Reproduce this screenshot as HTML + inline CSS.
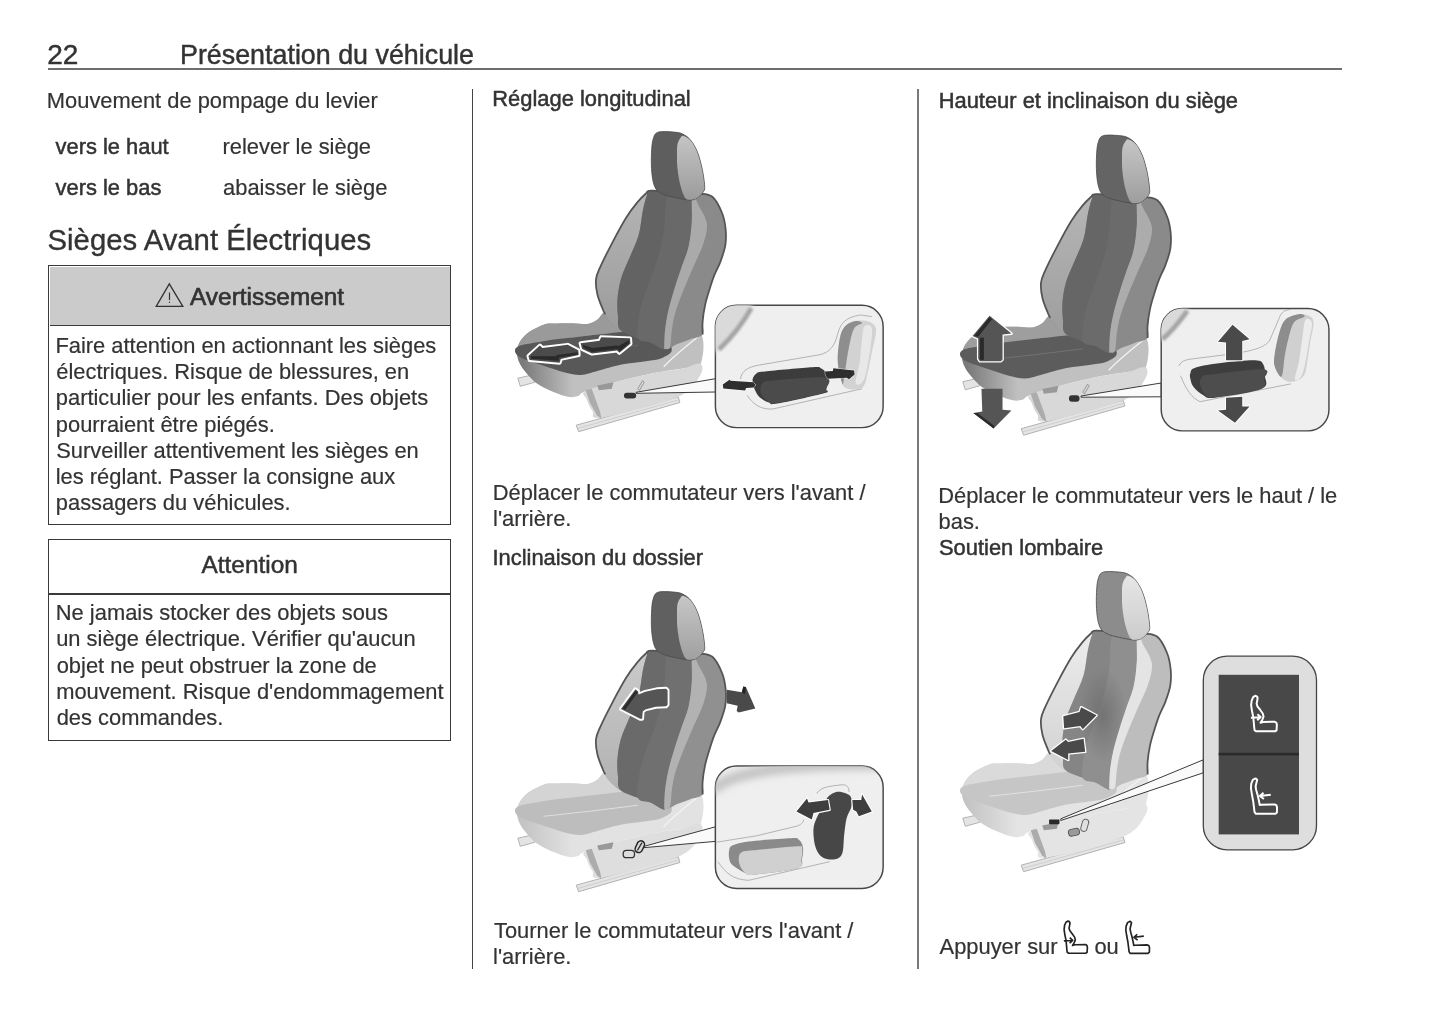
<!DOCTYPE html>
<html><head><meta charset="utf-8"><style>
html,body{margin:0;padding:0;background:#fff;}
body{filter:grayscale(1);}
body{width:1445px;height:1018px;position:relative;overflow:hidden;font-family:"Liberation Sans",sans-serif;color:#333;}
.t{position:absolute;white-space:pre;line-height:1;-webkit-text-stroke:0.2px #333;}
.box{position:absolute;border:1.5px solid #3a3a3a;}
svg{overflow:visible}
</style></head><body>
<div class="t" style="left:47.29px;top:40.60px;font-size:28px;-webkit-text-stroke:0.45px #333">22</div>
<div class="t" style="left:180.00px;top:41.57px;font-size:26.85px;-webkit-text-stroke:0.45px #333">Présentation du véhicule</div>
<div style="position:absolute;left:48px;top:68px;width:1294.3px;height:2px;background:#6e6e6e"></div>
<div class="t" style="left:46.80px;top:90.16px;font-size:21.9px;">Mouvement de pompage du levier</div>
<div class="t" style="left:55.53px;top:135.66px;font-size:21.9px;-webkit-text-stroke:0.5px #333">vers le haut</div>
<div class="t" style="left:222.55px;top:135.66px;font-size:21.9px;">relever le siège</div>
<div class="t" style="left:55.53px;top:176.56px;font-size:21.9px;-webkit-text-stroke:0.5px #333">vers le bas</div>
<div class="t" style="left:223.07px;top:176.56px;font-size:21.9px;">abaisser le siège</div>
<div class="t" style="left:47.57px;top:224.80px;font-size:29.3px;-webkit-text-stroke:0.35px #333">Sièges Avant Électriques</div>
<div class="box" style="left:48px;top:265px;width:401px;height:258px"></div>
<div style="position:absolute;left:49.5px;top:266.5px;width:400px;height:58.5px;background:#cbcbcb;border-bottom:1.5px solid #3a3a3a"></div>
<svg style="position:absolute;left:154px;top:282px" width="32" height="27" viewBox="0 0 32 27"><path d="M15.3 1.8 L2.2 24.4 L28.8 24.4 Z" fill="none" stroke="#333" stroke-width="1.3" stroke-linejoin="miter"/><path d="M15.5 10.5 V18" stroke="#333" stroke-width="1.2"/><circle cx="15.5" cy="20.2" r="0.7" fill="#333"/></svg>
<div class="t" style="left:190.05px;top:285.25px;font-size:24.4px;-webkit-text-stroke:0.65px #333">Avertissement</div>
<div class="t" style="left:55.40px;top:334.66px;font-size:21.9px;">Faire attention en actionnant les sièges</div>
<div class="t" style="left:56.27px;top:360.96px;font-size:21.9px;">électriques. Risque de blessures, en</div>
<div class="t" style="left:55.79px;top:387.26px;font-size:21.9px;">particulier pour les enfants. Des objets</div>
<div class="t" style="left:55.79px;top:413.56px;font-size:21.9px;">pourraient être piégés.</div>
<div class="t" style="left:56.21px;top:439.86px;font-size:21.9px;">Surveiller attentivement les sièges en</div>
<div class="t" style="left:55.72px;top:466.16px;font-size:21.9px;">les réglant. Passer la consigne aux</div>
<div class="t" style="left:55.79px;top:492.46px;font-size:21.9px;">passagers du véhicules.</div>
<div class="box" style="left:48px;top:539px;width:401px;height:199.5px"></div>
<div style="position:absolute;left:49px;top:593px;width:401px;height:1.5px;background:#3a3a3a"></div>
<div class="t" style="left:201.55px;top:553.25px;font-size:24.4px;-webkit-text-stroke:0.5px #333">Attention</div>
<div class="t" style="left:55.80px;top:601.96px;font-size:21.9px;">Ne jamais stocker des objets sous</div>
<div class="t" style="left:56.18px;top:628.26px;font-size:21.9px;">un siège électrique. Vérifier qu&#x27;aucun</div>
<div class="t" style="left:56.68px;top:654.56px;font-size:21.9px;">objet ne peut obstruer la zone de</div>
<div class="t" style="left:56.15px;top:680.86px;font-size:21.9px;">mouvement. Risque d&#x27;endommagement</div>
<div class="t" style="left:56.68px;top:707.16px;font-size:21.9px;">des commandes.</div>
<div style="position:absolute;left:471.8px;top:89px;width:1.3px;height:880px;background:#444"></div>
<div style="position:absolute;left:917.1px;top:89px;width:1.9px;height:880px;background:#7a7a7a"></div>
<div class="t" style="left:492.30px;top:88.16px;font-size:21.9px;-webkit-text-stroke:0.5px #333">Réglage longitudinal</div>
<div class="t" style="left:492.70px;top:481.56px;font-size:21.9px;">Déplacer le commutateur vers l&#x27;avant /</div>
<div class="t" style="left:493.02px;top:507.66px;font-size:21.9px;">l&#x27;arrière.</div>
<div class="t" style="left:492.48px;top:547.06px;font-size:21.9px;-webkit-text-stroke:0.5px #333">Inclinaison du dossier</div>
<div class="t" style="left:494.01px;top:920.46px;font-size:21.9px;">Tourner le commutateur vers l&#x27;avant /</div>
<div class="t" style="left:493.02px;top:946.36px;font-size:21.9px;">l&#x27;arrière.</div>
<div class="t" style="left:938.70px;top:89.96px;font-size:21.9px;-webkit-text-stroke:0.5px #333">Hauteur et inclinaison du siège</div>
<div class="t" style="left:938.20px;top:485.16px;font-size:21.9px;">Déplacer le commutateur vers le haut / le</div>
<div class="t" style="left:938.59px;top:511.46px;font-size:21.9px;">bas.</div>
<div class="t" style="left:939.01px;top:537.16px;font-size:21.9px;-webkit-text-stroke:0.5px #333">Soutien lombaire</div>
<div class="t" style="left:939.56px;top:936.46px;font-size:21.9px;">Appuyer sur</div>
<div class="t" style="left:1094.38px;top:936.46px;font-size:21.9px;">ou</div>

<style>
.S path{stroke:none}
.S .rl{fill:#e4e4e4;stroke:#b0b0b0;stroke-width:6}
.S .cf{fill:var(--cf)}
.S .cs{fill:var(--cs)}
.S .cd{fill:var(--cd)}
.S .ro{fill:var(--ro)}
.S .lb{fill:var(--lb)}
.S .ce{fill:var(--ce)}
.S .ce2{fill:var(--ce2)}
.S .rf{fill:var(--rf)}
.S .sh{fill:var(--sh)}
.S .hr{fill:var(--hr);stroke:#4a4a4a;stroke-width:5}
.S .hf{fill:var(--hf)}
.S .box{fill:#efefef;stroke:#474747;stroke-width:9}
.S .pl{fill:none;stroke:#a5a5a5;stroke-width:5}
.S .wl{fill:#fafafa;stroke:#3a3a3a;stroke-width:1}
.S .aw{stroke:#fff;stroke-width:52;stroke-linejoin:round;fill:#4b4b4b;paint-order:stroke}
.S .ad{fill:#2a2a2a}
.S .ak{fill:#4a4a4a}
.s1{--lb1:#b4b4b4;--hf1:#c4c4c4;--seam:#6a6a6a;--cf:#7a7a7a;--cf2:#c0c0c0;--cs:#9a9a9a;--cd:#585858;--ro:#8a8a8a;--lb:#9c9c9c;--ce:#636363;--ce2:#696969;--rf:#aaaaaa;--sh:#d8d8d8;--hr:#5e5e5e;--hf:#9c9c9c}
.s2{--lb1:#cacaca;--hf1:#c6c6c6;--seam:#e6e6e6;--cf:#c4c4c4;--cf2:#e2e2e2;--cs:#d4d4d4;--cd:#bdbdbd;--ro:#909090;--lb:#b2b2b2;--ce:#6a6a6a;--ce2:#707070;--rf:#b2b2b2;--sh:#dedede;--hr:#606060;--hf:#a0a0a0}
.s3{--lb1:#b6b6b6;--hf1:#c6c6c6;--seam:#777;--cf:#7a7a7a;--cf2:#c0c0c0;--cs:#9e9e9e;--cd:#5c5c5c;--ro:#8a8a8a;--lb:#9e9e9e;--ce:#666666;--ce2:#6b6b6b;--rf:#acacac;--sh:#d8d8d8;--hr:#646464;--hf:#9e9e9e}
.s4{--lb1:#ececec;--hf1:#e6e6e6;--seam:#e8e8e8;--cf:#c4c4c4;--cf2:#e4e4e4;--cs:#dadada;--cd:#c6c6c6;--ro:#bdbdbd;--lb:#d2d2d2;--ce:#858585;--ce2:#8f8f8f;--rf:#e4e4e4;--sh:#e4e4e4;--hr:#8c8c8c;--hf:#cccccc}
</style>

<svg class="S" style="position:absolute;left:0;top:0" width="1445" height="1018" viewBox="0 0 1445 1018"><defs><filter id="bl" x="-50%" y="-50%" width="200%" height="200%"><feGaussianBlur stdDeviation="22"/></filter><filter id="bl2" x="-50%" y="-50%" width="200%" height="200%"><feGaussianBlur stdDeviation="14"/></filter><filter id="bl3" x="-50%" y="-50%" width="200%" height="200%"><feGaussianBlur stdDeviation="7"/></filter><clipPath id="cb1"><rect x="95" y="125" width="1035" height="755" rx="130"/></clipPath><clipPath id="cb2"><rect x="95" y="130" width="1035" height="755" rx="130"/></clipPath><clipPath id="cb3"><rect x="100" y="145" width="1035" height="755" rx="130"/></clipPath></defs>
<g class="s1" transform="translate(500,120)"><defs><linearGradient id="g_s1" gradientUnits="userSpaceOnUse" x1="140" y1="0" x2="450" y2="0"><stop offset="0" style="stop-color:var(--cf)"/><stop offset="1" style="stop-color:var(--cf2)"/></linearGradient><linearGradient id="lb_s1" gradientUnits="userSpaceOnUse" x1="0" y1="-50" x2="0" y2="800"><stop offset="0" style="stop-color:var(--lb1)"/><stop offset="1" style="stop-color:var(--lb)"/></linearGradient><linearGradient id="hf_s1" gradientUnits="userSpaceOnUse" x1="0" y1="100" x2="0" y2="490"><stop offset="0" style="stop-color:var(--hf1)"/><stop offset="1" style="stop-color:var(--hf)"/></linearGradient></defs><g transform="translate(0,165) scale(0.16207)"><path d="M110,575 L200,555 L215,600 L125,625 Z" class="rl"/><path d="M470,865 L1100,690 L1110,725 L485,905 Z" class="rl"/><path d="M480,885 L1105,708" style="stroke:#c8c8c8;stroke-width:5;fill:none"/></g><g transform="translate(0,165) scale(0.16207)"><path d="M105,400 C107.5,378.3 117.5,358.3 130,340 C142.5,321.7 156.7,305.8 180,290 C203.3,274.2 246.7,253.7 270,245 C293.3,236.3 290.0,239.5 320,238 C350.0,236.5 413.3,235.7 450,236 C486.7,236.3 515.0,243.5 540,240 C565.0,236.5 583.3,226.7 600,215 C616.7,203.3 623.3,185.8 640,170 C656.7,154.2 673.3,128.3 700,120 C726.7,111.7 750.0,106.7 800,120 C850.0,133.3 927.7,171.7 1000,200 C1072.3,228.3 1195.0,240.0 1234,290 C1273.0,340.0 1251.7,462.5 1234,500 C1216.3,537.5 1171.0,508.5 1128,515 C1085.0,521.5 1041.7,525.8 976,539 C910.3,552.2 808.7,574.7 734,594 C659.3,613.3 570.3,639.8 528,655 C485.7,670.2 498.0,679.2 480,685 C462.0,690.8 445.0,694.2 420,690 C395.0,685.8 361.7,673.3 330,660 C298.3,646.7 258.3,630.0 230,610 C201.7,590.0 179.2,563.3 160,540 C140.8,516.7 124.2,493.3 115,470 C105.8,446.7 102.5,421.7 105,400 Z" style="fill:url(#g_s1)"/><path d="M105,400 C108.7,392.5 117.5,358.3 130,340 C142.5,321.7 156.7,305.8 180,290 C203.3,274.2 246.7,253.7 270,245 C293.3,236.3 290.0,239.5 320,238 C350.0,236.5 413.3,235.7 450,236 C486.7,236.3 515.0,243.5 540,240 C565.0,236.5 583.3,226.7 600,215 C616.7,203.3 623.3,180.8 640,170 C656.7,159.2 680.0,136.7 700,150 C720.0,163.3 743.3,226.7 760,250 C776.7,273.3 826.7,280.8 800,290 C773.3,299.2 666.7,298.3 600,305 C533.3,311.7 458.3,322.2 400,330 C341.7,337.8 298.7,342.8 250,352 C201.3,361.2 132.2,377.0 108,385 C83.8,393.0 101.3,407.5 105,400 Z" class="cs"/><path d="M106,382 C128.5,367.0 201.0,358.8 250,350 C299.0,341.2 341.7,336.5 400,329 C458.3,321.5 533.3,311.8 600,305 C666.7,298.2 733.3,288.8 800,288 C866.7,287.2 956.7,281.3 1000,300 C1043.3,318.7 1060.0,375.0 1060,400 C1060.0,425.0 1026.7,438.3 1000,450 C973.3,461.7 941.7,463.3 900,470 C858.3,476.7 800.0,480.0 750,490 C700.0,500.0 641.7,519.2 600,530 C558.3,540.8 533.3,553.3 500,555 C466.7,556.7 440.7,550.2 400,540 C359.3,529.8 303.5,510.7 256,494 C208.5,477.3 140.0,458.7 115,440 C90.0,421.3 83.5,397.0 106,382 Z" class="cd"/><path d="M1010,505 C1060,450 1120,400 1234,310" style="fill:none;stroke:#f4f4f4;stroke-width:8"/><path d="M270,440 L560,408 L850,372" style="fill:none;stroke:var(--seam);stroke-width:5"/></g><g transform="translate(60,80) scale(0.16207)"><path d="M560,-58 C588.3,-59.7 651.7,-53.0 700,-50 C748.3,-47.0 810.0,-45.0 850,-40 C890.0,-35.0 915.0,-40.0 940,-20 C965.0,0.0 986.3,46.7 1000,80 C1013.7,113.3 1018.7,146.7 1022,180 C1025.3,213.3 1025.3,246.7 1020,280 C1014.7,313.3 1001.7,348.3 990,380 C978.3,411.7 961.7,440.0 950,470 C938.3,500.0 929.2,530.0 920,560 C910.8,590.0 901.7,618.3 895,650 C888.3,681.7 882.5,720.0 880,750 C877.5,780.0 893.3,811.7 880,830 C866.7,848.3 826.7,850.0 800,860 C773.3,870.0 745.0,880.0 720,890 C695.0,900.0 676.7,921.7 650,920 C623.3,918.3 588.3,891.7 560,880 C531.7,868.3 511.7,863.3 480,850 C448.3,836.7 400.0,818.3 370,800 C340.0,781.7 317.5,760.5 300,740 C282.5,719.5 276.5,703.2 265,677 C253.5,650.8 238.2,614.2 231,583 C223.8,551.8 219.2,518.2 222,490 C224.8,461.8 231.0,452.2 248,414 C265.0,375.8 297.2,312.0 324,261 C350.8,210.0 383.5,149.0 409,108 C434.5,67.0 456.8,39.7 477,15 C497.2,-9.7 516.2,-27.8 530,-40 C543.8,-52.2 531.7,-56.3 560,-58 Z" class="ro"/><path d="M530,-40 C543.8,-52.2 559.0,-60.0 560,-58 C561.0,-56.0 544.2,-48.7 536,-28 C527.8,-7.3 519.5,25.0 511,66 C502.5,107.0 499.2,168.5 485,218 C470.8,267.5 444.3,317.7 426,363 C407.7,408.3 387.0,447.7 375,490 C363.0,532.3 356.8,578.7 354,617 C351.2,655.3 355.3,689.5 358,720 C360.7,750.5 379.7,796.7 370,800 C360.3,803.3 317.5,760.5 300,740 C282.5,719.5 276.5,703.2 265,677 C253.5,650.8 238.2,614.2 231,583 C223.8,551.8 219.2,518.2 222,490 C224.8,461.8 231.0,452.2 248,414 C265.0,375.8 297.2,312.0 324,261 C350.8,210.0 383.5,149.0 409,108 C434.5,67.0 456.8,39.7 477,15 C497.2,-9.7 516.2,-27.8 530,-40 Z" style="fill:url(#lb_s1)"/><path d="M560,-58 C606.5,-60.8 772.8,-77.0 815,-45 C857.2,-13.0 816.7,78.3 813,134 C809.3,189.7 803.3,242.7 793,289 C782.7,335.3 764.8,370.8 751,412 C737.2,453.2 723.7,491.3 710,536 C696.3,580.7 679.3,635.3 669,680 C658.7,724.7 651.2,764.0 648,804 C644.8,844.0 664.7,907.3 650,920 C635.3,932.7 588.3,891.7 560,880 C531.7,868.3 511.7,863.3 480,850 C448.3,836.7 390.3,821.7 370,800 C349.7,778.3 360.7,750.5 358,720 C355.3,689.5 351.2,655.3 354,617 C356.8,578.7 363.0,532.3 375,490 C387.0,447.7 407.7,408.3 426,363 C444.3,317.7 470.8,267.5 485,218 C499.2,168.5 502.5,107.0 511,66 C519.5,25.0 527.8,-7.3 536,-28 C544.2,-48.7 513.5,-55.2 560,-58 Z" class="ce"/><path d="M670,-50 C699.2,-90.8 791.2,-75.7 815,-45 C838.8,-14.3 816.7,78.3 813,134 C809.3,189.7 803.3,242.7 793,289 C782.7,335.3 764.8,370.8 751,412 C737.2,453.2 723.7,491.3 710,536 C696.3,580.7 679.3,635.3 669,680 C658.7,724.7 651.2,764.0 648,804 C644.8,844.0 664.7,907.3 650,920 C635.3,932.7 588.3,891.7 560,880 C531.7,868.3 491.7,880.0 480,850 C468.3,820.0 481.7,748.3 490,700 C498.3,651.7 513.3,610.0 530,560 C546.7,510.0 571.7,460.0 590,400 C608.3,340.0 626.7,275.0 640,200 C653.3,125.0 640.8,-9.2 670,-50 Z" class="ce2"/><path d="M815,-45 C821.8,-62.2 838.8,-0.5 854,31 C869.2,62.5 900.8,104.5 906,144 C911.2,183.5 898.8,223.3 885,268 C871.2,312.7 843.5,364.0 823,412 C802.5,460.0 780.8,508.0 762,556 C743.2,604.0 722.0,658.7 710,700 C698.0,741.3 695.2,769.5 690,804 C684.8,838.5 685.7,887.7 679,907 C672.3,926.3 656.0,920.0 650,920 C644.0,920.0 643.3,926.3 643,907 C642.7,887.7 643.7,841.8 648,804 C652.3,766.2 658.7,724.7 669,680 C679.3,635.3 696.3,580.7 710,536 C723.7,491.3 737.2,453.2 751,412 C764.8,370.8 782.7,335.3 793,289 C803.3,242.7 809.3,189.7 813,134 C816.7,78.3 808.2,-27.8 815,-45 Z" class="rf"/><path d="M280,705 C277.5,700.3 273.2,697.3 265,677 C256.8,656.7 238.2,614.2 231,583 C223.8,551.8 219.2,518.2 222,490 C224.8,461.8 231.0,452.2 248,414 C265.0,375.8 297.2,312.0 324,261 C350.8,210.0 383.5,149.0 409,108 C434.5,67.0 456.8,39.7 477,15 C497.2,-9.7 516.2,-27.8 530,-40 C543.8,-52.2 531.7,-56.3 560,-58 C588.3,-59.7 651.7,-53.0 700,-50 C748.3,-47.0 810.0,-45.0 850,-40 C890.0,-35.0 915.0,-40.0 940,-20 C965.0,0.0 986.3,46.7 1000,80 C1013.7,113.3 1018.7,146.7 1022,180 C1025.3,213.3 1025.3,246.7 1020,280 C1014.7,313.3 1001.7,348.3 990,380 C978.3,411.7 961.7,440.0 950,470 C938.3,500.0 929.2,530.0 920,560 C910.8,590.0 901.7,618.3 895,650 C888.3,681.7 882.5,720.0 880,750 C877.5,780.0 880.0,816.7 880,830" style="fill:none;stroke:#555;stroke-width:11"/></g><g transform="translate(0,165) scale(0.16207)"><path d="M528,655 C561.3,636.8 659.3,613.3 734,594 C808.7,574.7 910.3,552.2 976,539 C1041.7,525.8 1085.0,524.0 1128,515 C1171.0,506.0 1216.3,477.5 1234,485 C1251.7,492.5 1256.8,525.7 1234,560 C1211.2,594.3 1197.7,648.0 1097,691 C996.3,734.0 717.8,803.8 630,818 C542.2,832.2 586.0,795.2 570,776 C554.0,756.8 541.0,723.2 534,703 C527.0,682.8 494.7,673.2 528,655 Z" class="sh"/><path d="M529,650 L566,640 L617,780 L626,826 L598,803 L555,727 Z" style="fill:#acacac"/><path d="M600,620 L700,600 L690,640 L610,650 Z" style="fill:#999"/><path d="M850,640 L880,590 L890,600 L860,650 Z" style="fill:none;stroke:#888;stroke-width:5"/></g><g transform="translate(100,0) scale(0.16207)"><path d="M360,75 C383.7,68.0 443.3,73.2 470,76 C496.7,78.8 504.7,83.3 520,92 C535.3,100.7 548.3,110.0 562,128 C575.7,146.0 590.7,171.3 602,200 C613.3,228.7 622.8,266.7 630,300 C637.2,333.3 643.3,376.7 645,400 C646.7,423.3 647.5,426.7 640,440 C632.5,453.3 613.7,471.0 600,480 C586.3,489.0 578.0,493.7 558,494 C538.0,494.3 506.3,487.3 480,482 C453.7,476.7 421.7,470.3 400,462 C378.3,453.7 362.0,445.7 350,432 C338.0,418.3 333.3,402.0 328,380 C322.7,358.0 319.7,330.0 318,300 C316.3,270.0 316.3,230.3 318,200 C319.7,169.7 321.0,138.8 328,118 C335.0,97.2 336.3,82.0 360,75 Z" class="hr"/><path d="M515,98 C525.3,101.3 545.8,111.0 560,128 C574.2,145.0 588.7,171.3 600,200 C611.3,228.7 620.8,266.7 628,300 C635.2,333.3 641.3,376.7 643,400 C644.7,423.3 645.2,426.7 638,440 C630.8,453.3 613.0,471.3 600,480 C587.0,488.7 572.5,492.0 560,492 C547.5,492.0 535.8,495.3 525,480 C514.2,464.7 502.8,430.0 495,400 C487.2,370.0 481.3,330.0 478,300 C474.7,270.0 475.0,245.0 475,220 C475.0,195.0 474.2,168.7 478,150 C481.8,131.3 491.8,116.7 498,108 C504.2,99.3 504.7,94.7 515,98 Z" style="fill:url(#hf_s1)"/></g></g>
<g class="s2" transform="translate(500,580)"><defs><linearGradient id="g_s2" gradientUnits="userSpaceOnUse" x1="140" y1="0" x2="450" y2="0"><stop offset="0" style="stop-color:var(--cf)"/><stop offset="1" style="stop-color:var(--cf2)"/></linearGradient><linearGradient id="lb_s2" gradientUnits="userSpaceOnUse" x1="0" y1="-50" x2="0" y2="800"><stop offset="0" style="stop-color:var(--lb1)"/><stop offset="1" style="stop-color:var(--lb)"/></linearGradient><linearGradient id="hf_s2" gradientUnits="userSpaceOnUse" x1="0" y1="100" x2="0" y2="490"><stop offset="0" style="stop-color:var(--hf1)"/><stop offset="1" style="stop-color:var(--hf)"/></linearGradient></defs><g transform="translate(0,165) scale(0.16207)"><path d="M110,575 L200,555 L215,600 L125,625 Z" class="rl"/><path d="M470,865 L1100,690 L1110,725 L485,905 Z" class="rl"/><path d="M480,885 L1105,708" style="stroke:#c8c8c8;stroke-width:5;fill:none"/></g><g transform="translate(0,165) scale(0.16207)"><path d="M105,400 C107.5,378.3 117.5,358.3 130,340 C142.5,321.7 156.7,305.8 180,290 C203.3,274.2 246.7,253.7 270,245 C293.3,236.3 290.0,239.5 320,238 C350.0,236.5 413.3,235.7 450,236 C486.7,236.3 515.0,243.5 540,240 C565.0,236.5 583.3,226.7 600,215 C616.7,203.3 623.3,185.8 640,170 C656.7,154.2 673.3,128.3 700,120 C726.7,111.7 750.0,106.7 800,120 C850.0,133.3 927.7,171.7 1000,200 C1072.3,228.3 1195.0,240.0 1234,290 C1273.0,340.0 1251.7,462.5 1234,500 C1216.3,537.5 1171.0,508.5 1128,515 C1085.0,521.5 1041.7,525.8 976,539 C910.3,552.2 808.7,574.7 734,594 C659.3,613.3 570.3,639.8 528,655 C485.7,670.2 498.0,679.2 480,685 C462.0,690.8 445.0,694.2 420,690 C395.0,685.8 361.7,673.3 330,660 C298.3,646.7 258.3,630.0 230,610 C201.7,590.0 179.2,563.3 160,540 C140.8,516.7 124.2,493.3 115,470 C105.8,446.7 102.5,421.7 105,400 Z" style="fill:url(#g_s2)"/><path d="M105,400 C108.7,392.5 117.5,358.3 130,340 C142.5,321.7 156.7,305.8 180,290 C203.3,274.2 246.7,253.7 270,245 C293.3,236.3 290.0,239.5 320,238 C350.0,236.5 413.3,235.7 450,236 C486.7,236.3 515.0,243.5 540,240 C565.0,236.5 583.3,226.7 600,215 C616.7,203.3 623.3,180.8 640,170 C656.7,159.2 680.0,136.7 700,150 C720.0,163.3 743.3,226.7 760,250 C776.7,273.3 826.7,280.8 800,290 C773.3,299.2 666.7,298.3 600,305 C533.3,311.7 458.3,322.2 400,330 C341.7,337.8 298.7,342.8 250,352 C201.3,361.2 132.2,377.0 108,385 C83.8,393.0 101.3,407.5 105,400 Z" class="cs"/><path d="M106,382 C128.5,367.0 201.0,358.8 250,350 C299.0,341.2 341.7,336.5 400,329 C458.3,321.5 533.3,311.8 600,305 C666.7,298.2 733.3,288.8 800,288 C866.7,287.2 956.7,281.3 1000,300 C1043.3,318.7 1060.0,375.0 1060,400 C1060.0,425.0 1026.7,438.3 1000,450 C973.3,461.7 941.7,463.3 900,470 C858.3,476.7 800.0,480.0 750,490 C700.0,500.0 641.7,519.2 600,530 C558.3,540.8 533.3,553.3 500,555 C466.7,556.7 440.7,550.2 400,540 C359.3,529.8 303.5,510.7 256,494 C208.5,477.3 140.0,458.7 115,440 C90.0,421.3 83.5,397.0 106,382 Z" class="cd"/><path d="M1010,505 C1060,450 1120,400 1234,310" style="fill:none;stroke:#f4f4f4;stroke-width:8"/><path d="M270,440 L560,408 L850,372" style="fill:none;stroke:var(--seam);stroke-width:5"/></g><g transform="translate(60,80) scale(0.16207)"><path d="M560,-58 C588.3,-59.7 651.7,-53.0 700,-50 C748.3,-47.0 810.0,-45.0 850,-40 C890.0,-35.0 915.0,-40.0 940,-20 C965.0,0.0 986.3,46.7 1000,80 C1013.7,113.3 1018.7,146.7 1022,180 C1025.3,213.3 1025.3,246.7 1020,280 C1014.7,313.3 1001.7,348.3 990,380 C978.3,411.7 961.7,440.0 950,470 C938.3,500.0 929.2,530.0 920,560 C910.8,590.0 901.7,618.3 895,650 C888.3,681.7 882.5,720.0 880,750 C877.5,780.0 893.3,811.7 880,830 C866.7,848.3 826.7,850.0 800,860 C773.3,870.0 745.0,880.0 720,890 C695.0,900.0 676.7,921.7 650,920 C623.3,918.3 588.3,891.7 560,880 C531.7,868.3 511.7,863.3 480,850 C448.3,836.7 400.0,818.3 370,800 C340.0,781.7 317.5,760.5 300,740 C282.5,719.5 276.5,703.2 265,677 C253.5,650.8 238.2,614.2 231,583 C223.8,551.8 219.2,518.2 222,490 C224.8,461.8 231.0,452.2 248,414 C265.0,375.8 297.2,312.0 324,261 C350.8,210.0 383.5,149.0 409,108 C434.5,67.0 456.8,39.7 477,15 C497.2,-9.7 516.2,-27.8 530,-40 C543.8,-52.2 531.7,-56.3 560,-58 Z" class="ro"/><path d="M530,-40 C543.8,-52.2 559.0,-60.0 560,-58 C561.0,-56.0 544.2,-48.7 536,-28 C527.8,-7.3 519.5,25.0 511,66 C502.5,107.0 499.2,168.5 485,218 C470.8,267.5 444.3,317.7 426,363 C407.7,408.3 387.0,447.7 375,490 C363.0,532.3 356.8,578.7 354,617 C351.2,655.3 355.3,689.5 358,720 C360.7,750.5 379.7,796.7 370,800 C360.3,803.3 317.5,760.5 300,740 C282.5,719.5 276.5,703.2 265,677 C253.5,650.8 238.2,614.2 231,583 C223.8,551.8 219.2,518.2 222,490 C224.8,461.8 231.0,452.2 248,414 C265.0,375.8 297.2,312.0 324,261 C350.8,210.0 383.5,149.0 409,108 C434.5,67.0 456.8,39.7 477,15 C497.2,-9.7 516.2,-27.8 530,-40 Z" style="fill:url(#lb_s2)"/><path d="M560,-58 C606.5,-60.8 772.8,-77.0 815,-45 C857.2,-13.0 816.7,78.3 813,134 C809.3,189.7 803.3,242.7 793,289 C782.7,335.3 764.8,370.8 751,412 C737.2,453.2 723.7,491.3 710,536 C696.3,580.7 679.3,635.3 669,680 C658.7,724.7 651.2,764.0 648,804 C644.8,844.0 664.7,907.3 650,920 C635.3,932.7 588.3,891.7 560,880 C531.7,868.3 511.7,863.3 480,850 C448.3,836.7 390.3,821.7 370,800 C349.7,778.3 360.7,750.5 358,720 C355.3,689.5 351.2,655.3 354,617 C356.8,578.7 363.0,532.3 375,490 C387.0,447.7 407.7,408.3 426,363 C444.3,317.7 470.8,267.5 485,218 C499.2,168.5 502.5,107.0 511,66 C519.5,25.0 527.8,-7.3 536,-28 C544.2,-48.7 513.5,-55.2 560,-58 Z" class="ce"/><path d="M670,-50 C699.2,-90.8 791.2,-75.7 815,-45 C838.8,-14.3 816.7,78.3 813,134 C809.3,189.7 803.3,242.7 793,289 C782.7,335.3 764.8,370.8 751,412 C737.2,453.2 723.7,491.3 710,536 C696.3,580.7 679.3,635.3 669,680 C658.7,724.7 651.2,764.0 648,804 C644.8,844.0 664.7,907.3 650,920 C635.3,932.7 588.3,891.7 560,880 C531.7,868.3 491.7,880.0 480,850 C468.3,820.0 481.7,748.3 490,700 C498.3,651.7 513.3,610.0 530,560 C546.7,510.0 571.7,460.0 590,400 C608.3,340.0 626.7,275.0 640,200 C653.3,125.0 640.8,-9.2 670,-50 Z" class="ce2"/><path d="M815,-45 C821.8,-62.2 838.8,-0.5 854,31 C869.2,62.5 900.8,104.5 906,144 C911.2,183.5 898.8,223.3 885,268 C871.2,312.7 843.5,364.0 823,412 C802.5,460.0 780.8,508.0 762,556 C743.2,604.0 722.0,658.7 710,700 C698.0,741.3 695.2,769.5 690,804 C684.8,838.5 685.7,887.7 679,907 C672.3,926.3 656.0,920.0 650,920 C644.0,920.0 643.3,926.3 643,907 C642.7,887.7 643.7,841.8 648,804 C652.3,766.2 658.7,724.7 669,680 C679.3,635.3 696.3,580.7 710,536 C723.7,491.3 737.2,453.2 751,412 C764.8,370.8 782.7,335.3 793,289 C803.3,242.7 809.3,189.7 813,134 C816.7,78.3 808.2,-27.8 815,-45 Z" class="rf"/><path d="M280,705 C277.5,700.3 273.2,697.3 265,677 C256.8,656.7 238.2,614.2 231,583 C223.8,551.8 219.2,518.2 222,490 C224.8,461.8 231.0,452.2 248,414 C265.0,375.8 297.2,312.0 324,261 C350.8,210.0 383.5,149.0 409,108 C434.5,67.0 456.8,39.7 477,15 C497.2,-9.7 516.2,-27.8 530,-40 C543.8,-52.2 531.7,-56.3 560,-58 C588.3,-59.7 651.7,-53.0 700,-50 C748.3,-47.0 810.0,-45.0 850,-40 C890.0,-35.0 915.0,-40.0 940,-20 C965.0,0.0 986.3,46.7 1000,80 C1013.7,113.3 1018.7,146.7 1022,180 C1025.3,213.3 1025.3,246.7 1020,280 C1014.7,313.3 1001.7,348.3 990,380 C978.3,411.7 961.7,440.0 950,470 C938.3,500.0 929.2,530.0 920,560 C910.8,590.0 901.7,618.3 895,650 C888.3,681.7 882.5,720.0 880,750 C877.5,780.0 880.0,816.7 880,830" style="fill:none;stroke:#555;stroke-width:11"/></g><g transform="translate(0,165) scale(0.16207)"><path d="M528,655 C561.3,636.8 659.3,613.3 734,594 C808.7,574.7 910.3,552.2 976,539 C1041.7,525.8 1085.0,524.0 1128,515 C1171.0,506.0 1216.3,477.5 1234,485 C1251.7,492.5 1256.8,525.7 1234,560 C1211.2,594.3 1197.7,648.0 1097,691 C996.3,734.0 717.8,803.8 630,818 C542.2,832.2 586.0,795.2 570,776 C554.0,756.8 541.0,723.2 534,703 C527.0,682.8 494.7,673.2 528,655 Z" class="sh"/><path d="M529,650 L566,640 L617,780 L626,826 L598,803 L555,727 Z" style="fill:#acacac"/><path d="M600,620 L700,600 L690,640 L610,650 Z" style="fill:#999"/><path d="M850,640 L880,590 L890,600 L860,650 Z" style="fill:none;stroke:#888;stroke-width:5"/></g><g transform="translate(100,0) scale(0.16207)"><path d="M360,75 C383.7,68.0 443.3,73.2 470,76 C496.7,78.8 504.7,83.3 520,92 C535.3,100.7 548.3,110.0 562,128 C575.7,146.0 590.7,171.3 602,200 C613.3,228.7 622.8,266.7 630,300 C637.2,333.3 643.3,376.7 645,400 C646.7,423.3 647.5,426.7 640,440 C632.5,453.3 613.7,471.0 600,480 C586.3,489.0 578.0,493.7 558,494 C538.0,494.3 506.3,487.3 480,482 C453.7,476.7 421.7,470.3 400,462 C378.3,453.7 362.0,445.7 350,432 C338.0,418.3 333.3,402.0 328,380 C322.7,358.0 319.7,330.0 318,300 C316.3,270.0 316.3,230.3 318,200 C319.7,169.7 321.0,138.8 328,118 C335.0,97.2 336.3,82.0 360,75 Z" class="hr"/><path d="M515,98 C525.3,101.3 545.8,111.0 560,128 C574.2,145.0 588.7,171.3 600,200 C611.3,228.7 620.8,266.7 628,300 C635.2,333.3 641.3,376.7 643,400 C644.7,423.3 645.2,426.7 638,440 C630.8,453.3 613.0,471.3 600,480 C587.0,488.7 572.5,492.0 560,492 C547.5,492.0 535.8,495.3 525,480 C514.2,464.7 502.8,430.0 495,400 C487.2,370.0 481.3,330.0 478,300 C474.7,270.0 475.0,245.0 475,220 C475.0,195.0 474.2,168.7 478,150 C481.8,131.3 491.8,116.7 498,108 C504.2,99.3 504.7,94.7 515,98 Z" style="fill:url(#hf_s2)"/></g></g>
<g class="s3" transform="translate(945,123.5)"><defs><linearGradient id="g_s3" gradientUnits="userSpaceOnUse" x1="140" y1="0" x2="450" y2="0"><stop offset="0" style="stop-color:var(--cf)"/><stop offset="1" style="stop-color:var(--cf2)"/></linearGradient><linearGradient id="lb_s3" gradientUnits="userSpaceOnUse" x1="0" y1="-50" x2="0" y2="800"><stop offset="0" style="stop-color:var(--lb1)"/><stop offset="1" style="stop-color:var(--lb)"/></linearGradient><linearGradient id="hf_s3" gradientUnits="userSpaceOnUse" x1="0" y1="100" x2="0" y2="490"><stop offset="0" style="stop-color:var(--hf1)"/><stop offset="1" style="stop-color:var(--hf)"/></linearGradient></defs><g transform="translate(0,165) scale(0.16207)"><path d="M110,575 L200,555 L215,600 L125,625 Z" class="rl"/><path d="M470,865 L1100,690 L1110,725 L485,905 Z" class="rl"/><path d="M480,885 L1105,708" style="stroke:#c8c8c8;stroke-width:5;fill:none"/></g><g transform="translate(0,165) scale(0.16207)"><path d="M105,400 C107.5,378.3 117.5,358.3 130,340 C142.5,321.7 156.7,305.8 180,290 C203.3,274.2 246.7,253.7 270,245 C293.3,236.3 290.0,239.5 320,238 C350.0,236.5 413.3,235.7 450,236 C486.7,236.3 515.0,243.5 540,240 C565.0,236.5 583.3,226.7 600,215 C616.7,203.3 623.3,185.8 640,170 C656.7,154.2 673.3,128.3 700,120 C726.7,111.7 750.0,106.7 800,120 C850.0,133.3 927.7,171.7 1000,200 C1072.3,228.3 1195.0,240.0 1234,290 C1273.0,340.0 1251.7,462.5 1234,500 C1216.3,537.5 1171.0,508.5 1128,515 C1085.0,521.5 1041.7,525.8 976,539 C910.3,552.2 808.7,574.7 734,594 C659.3,613.3 570.3,639.8 528,655 C485.7,670.2 498.0,679.2 480,685 C462.0,690.8 445.0,694.2 420,690 C395.0,685.8 361.7,673.3 330,660 C298.3,646.7 258.3,630.0 230,610 C201.7,590.0 179.2,563.3 160,540 C140.8,516.7 124.2,493.3 115,470 C105.8,446.7 102.5,421.7 105,400 Z" style="fill:url(#g_s3)"/><path d="M105,400 C108.7,392.5 117.5,358.3 130,340 C142.5,321.7 156.7,305.8 180,290 C203.3,274.2 246.7,253.7 270,245 C293.3,236.3 290.0,239.5 320,238 C350.0,236.5 413.3,235.7 450,236 C486.7,236.3 515.0,243.5 540,240 C565.0,236.5 583.3,226.7 600,215 C616.7,203.3 623.3,180.8 640,170 C656.7,159.2 680.0,136.7 700,150 C720.0,163.3 743.3,226.7 760,250 C776.7,273.3 826.7,280.8 800,290 C773.3,299.2 666.7,298.3 600,305 C533.3,311.7 458.3,322.2 400,330 C341.7,337.8 298.7,342.8 250,352 C201.3,361.2 132.2,377.0 108,385 C83.8,393.0 101.3,407.5 105,400 Z" class="cs"/><path d="M106,382 C128.5,367.0 201.0,358.8 250,350 C299.0,341.2 341.7,336.5 400,329 C458.3,321.5 533.3,311.8 600,305 C666.7,298.2 733.3,288.8 800,288 C866.7,287.2 956.7,281.3 1000,300 C1043.3,318.7 1060.0,375.0 1060,400 C1060.0,425.0 1026.7,438.3 1000,450 C973.3,461.7 941.7,463.3 900,470 C858.3,476.7 800.0,480.0 750,490 C700.0,500.0 641.7,519.2 600,530 C558.3,540.8 533.3,553.3 500,555 C466.7,556.7 440.7,550.2 400,540 C359.3,529.8 303.5,510.7 256,494 C208.5,477.3 140.0,458.7 115,440 C90.0,421.3 83.5,397.0 106,382 Z" class="cd"/><path d="M1010,505 C1060,450 1120,400 1234,310" style="fill:none;stroke:#f4f4f4;stroke-width:8"/><path d="M270,440 L560,408 L850,372" style="fill:none;stroke:var(--seam);stroke-width:5"/></g><g transform="translate(60,80) scale(0.16207)"><path d="M560,-58 C588.3,-59.7 651.7,-53.0 700,-50 C748.3,-47.0 810.0,-45.0 850,-40 C890.0,-35.0 915.0,-40.0 940,-20 C965.0,0.0 986.3,46.7 1000,80 C1013.7,113.3 1018.7,146.7 1022,180 C1025.3,213.3 1025.3,246.7 1020,280 C1014.7,313.3 1001.7,348.3 990,380 C978.3,411.7 961.7,440.0 950,470 C938.3,500.0 929.2,530.0 920,560 C910.8,590.0 901.7,618.3 895,650 C888.3,681.7 882.5,720.0 880,750 C877.5,780.0 893.3,811.7 880,830 C866.7,848.3 826.7,850.0 800,860 C773.3,870.0 745.0,880.0 720,890 C695.0,900.0 676.7,921.7 650,920 C623.3,918.3 588.3,891.7 560,880 C531.7,868.3 511.7,863.3 480,850 C448.3,836.7 400.0,818.3 370,800 C340.0,781.7 317.5,760.5 300,740 C282.5,719.5 276.5,703.2 265,677 C253.5,650.8 238.2,614.2 231,583 C223.8,551.8 219.2,518.2 222,490 C224.8,461.8 231.0,452.2 248,414 C265.0,375.8 297.2,312.0 324,261 C350.8,210.0 383.5,149.0 409,108 C434.5,67.0 456.8,39.7 477,15 C497.2,-9.7 516.2,-27.8 530,-40 C543.8,-52.2 531.7,-56.3 560,-58 Z" class="ro"/><path d="M530,-40 C543.8,-52.2 559.0,-60.0 560,-58 C561.0,-56.0 544.2,-48.7 536,-28 C527.8,-7.3 519.5,25.0 511,66 C502.5,107.0 499.2,168.5 485,218 C470.8,267.5 444.3,317.7 426,363 C407.7,408.3 387.0,447.7 375,490 C363.0,532.3 356.8,578.7 354,617 C351.2,655.3 355.3,689.5 358,720 C360.7,750.5 379.7,796.7 370,800 C360.3,803.3 317.5,760.5 300,740 C282.5,719.5 276.5,703.2 265,677 C253.5,650.8 238.2,614.2 231,583 C223.8,551.8 219.2,518.2 222,490 C224.8,461.8 231.0,452.2 248,414 C265.0,375.8 297.2,312.0 324,261 C350.8,210.0 383.5,149.0 409,108 C434.5,67.0 456.8,39.7 477,15 C497.2,-9.7 516.2,-27.8 530,-40 Z" style="fill:url(#lb_s3)"/><path d="M560,-58 C606.5,-60.8 772.8,-77.0 815,-45 C857.2,-13.0 816.7,78.3 813,134 C809.3,189.7 803.3,242.7 793,289 C782.7,335.3 764.8,370.8 751,412 C737.2,453.2 723.7,491.3 710,536 C696.3,580.7 679.3,635.3 669,680 C658.7,724.7 651.2,764.0 648,804 C644.8,844.0 664.7,907.3 650,920 C635.3,932.7 588.3,891.7 560,880 C531.7,868.3 511.7,863.3 480,850 C448.3,836.7 390.3,821.7 370,800 C349.7,778.3 360.7,750.5 358,720 C355.3,689.5 351.2,655.3 354,617 C356.8,578.7 363.0,532.3 375,490 C387.0,447.7 407.7,408.3 426,363 C444.3,317.7 470.8,267.5 485,218 C499.2,168.5 502.5,107.0 511,66 C519.5,25.0 527.8,-7.3 536,-28 C544.2,-48.7 513.5,-55.2 560,-58 Z" class="ce"/><path d="M670,-50 C699.2,-90.8 791.2,-75.7 815,-45 C838.8,-14.3 816.7,78.3 813,134 C809.3,189.7 803.3,242.7 793,289 C782.7,335.3 764.8,370.8 751,412 C737.2,453.2 723.7,491.3 710,536 C696.3,580.7 679.3,635.3 669,680 C658.7,724.7 651.2,764.0 648,804 C644.8,844.0 664.7,907.3 650,920 C635.3,932.7 588.3,891.7 560,880 C531.7,868.3 491.7,880.0 480,850 C468.3,820.0 481.7,748.3 490,700 C498.3,651.7 513.3,610.0 530,560 C546.7,510.0 571.7,460.0 590,400 C608.3,340.0 626.7,275.0 640,200 C653.3,125.0 640.8,-9.2 670,-50 Z" class="ce2"/><path d="M815,-45 C821.8,-62.2 838.8,-0.5 854,31 C869.2,62.5 900.8,104.5 906,144 C911.2,183.5 898.8,223.3 885,268 C871.2,312.7 843.5,364.0 823,412 C802.5,460.0 780.8,508.0 762,556 C743.2,604.0 722.0,658.7 710,700 C698.0,741.3 695.2,769.5 690,804 C684.8,838.5 685.7,887.7 679,907 C672.3,926.3 656.0,920.0 650,920 C644.0,920.0 643.3,926.3 643,907 C642.7,887.7 643.7,841.8 648,804 C652.3,766.2 658.7,724.7 669,680 C679.3,635.3 696.3,580.7 710,536 C723.7,491.3 737.2,453.2 751,412 C764.8,370.8 782.7,335.3 793,289 C803.3,242.7 809.3,189.7 813,134 C816.7,78.3 808.2,-27.8 815,-45 Z" class="rf"/><path d="M280,705 C277.5,700.3 273.2,697.3 265,677 C256.8,656.7 238.2,614.2 231,583 C223.8,551.8 219.2,518.2 222,490 C224.8,461.8 231.0,452.2 248,414 C265.0,375.8 297.2,312.0 324,261 C350.8,210.0 383.5,149.0 409,108 C434.5,67.0 456.8,39.7 477,15 C497.2,-9.7 516.2,-27.8 530,-40 C543.8,-52.2 531.7,-56.3 560,-58 C588.3,-59.7 651.7,-53.0 700,-50 C748.3,-47.0 810.0,-45.0 850,-40 C890.0,-35.0 915.0,-40.0 940,-20 C965.0,0.0 986.3,46.7 1000,80 C1013.7,113.3 1018.7,146.7 1022,180 C1025.3,213.3 1025.3,246.7 1020,280 C1014.7,313.3 1001.7,348.3 990,380 C978.3,411.7 961.7,440.0 950,470 C938.3,500.0 929.2,530.0 920,560 C910.8,590.0 901.7,618.3 895,650 C888.3,681.7 882.5,720.0 880,750 C877.5,780.0 880.0,816.7 880,830" style="fill:none;stroke:#555;stroke-width:11"/></g><g transform="translate(0,165) scale(0.16207)"><path d="M528,655 C561.3,636.8 659.3,613.3 734,594 C808.7,574.7 910.3,552.2 976,539 C1041.7,525.8 1085.0,524.0 1128,515 C1171.0,506.0 1216.3,477.5 1234,485 C1251.7,492.5 1256.8,525.7 1234,560 C1211.2,594.3 1197.7,648.0 1097,691 C996.3,734.0 717.8,803.8 630,818 C542.2,832.2 586.0,795.2 570,776 C554.0,756.8 541.0,723.2 534,703 C527.0,682.8 494.7,673.2 528,655 Z" class="sh"/><path d="M529,650 L566,640 L617,780 L626,826 L598,803 L555,727 Z" style="fill:#acacac"/><path d="M600,620 L700,600 L690,640 L610,650 Z" style="fill:#999"/><path d="M850,640 L880,590 L890,600 L860,650 Z" style="fill:none;stroke:#888;stroke-width:5"/></g><g transform="translate(100,0) scale(0.16207)"><path d="M360,75 C383.7,68.0 443.3,73.2 470,76 C496.7,78.8 504.7,83.3 520,92 C535.3,100.7 548.3,110.0 562,128 C575.7,146.0 590.7,171.3 602,200 C613.3,228.7 622.8,266.7 630,300 C637.2,333.3 643.3,376.7 645,400 C646.7,423.3 647.5,426.7 640,440 C632.5,453.3 613.7,471.0 600,480 C586.3,489.0 578.0,493.7 558,494 C538.0,494.3 506.3,487.3 480,482 C453.7,476.7 421.7,470.3 400,462 C378.3,453.7 362.0,445.7 350,432 C338.0,418.3 333.3,402.0 328,380 C322.7,358.0 319.7,330.0 318,300 C316.3,270.0 316.3,230.3 318,200 C319.7,169.7 321.0,138.8 328,118 C335.0,97.2 336.3,82.0 360,75 Z" class="hr"/><path d="M515,98 C525.3,101.3 545.8,111.0 560,128 C574.2,145.0 588.7,171.3 600,200 C611.3,228.7 620.8,266.7 628,300 C635.2,333.3 641.3,376.7 643,400 C644.7,423.3 645.2,426.7 638,440 C630.8,453.3 613.0,471.3 600,480 C587.0,488.7 572.5,492.0 560,492 C547.5,492.0 535.8,495.3 525,480 C514.2,464.7 502.8,430.0 495,400 C487.2,370.0 481.3,330.0 478,300 C474.7,270.0 475.0,245.0 475,220 C475.0,195.0 474.2,168.7 478,150 C481.8,131.3 491.8,116.7 498,108 C504.2,99.3 504.7,94.7 515,98 Z" style="fill:url(#hf_s3)"/></g></g>
<g class="s4" transform="translate(945,560)"><defs><linearGradient id="g_s4" gradientUnits="userSpaceOnUse" x1="140" y1="0" x2="450" y2="0"><stop offset="0" style="stop-color:var(--cf)"/><stop offset="1" style="stop-color:var(--cf2)"/></linearGradient><linearGradient id="lb_s4" gradientUnits="userSpaceOnUse" x1="0" y1="-50" x2="0" y2="800"><stop offset="0" style="stop-color:var(--lb1)"/><stop offset="1" style="stop-color:var(--lb)"/></linearGradient><linearGradient id="hf_s4" gradientUnits="userSpaceOnUse" x1="0" y1="100" x2="0" y2="490"><stop offset="0" style="stop-color:var(--hf1)"/><stop offset="1" style="stop-color:var(--hf)"/></linearGradient></defs><g transform="translate(0,165) scale(0.16207)"><path d="M110,575 L200,555 L215,600 L125,625 Z" class="rl"/><path d="M470,865 L1100,690 L1110,725 L485,905 Z" class="rl"/><path d="M480,885 L1105,708" style="stroke:#c8c8c8;stroke-width:5;fill:none"/></g><g transform="translate(0,165) scale(0.16207)"><path d="M105,400 C107.5,378.3 117.5,358.3 130,340 C142.5,321.7 156.7,305.8 180,290 C203.3,274.2 246.7,253.7 270,245 C293.3,236.3 290.0,239.5 320,238 C350.0,236.5 413.3,235.7 450,236 C486.7,236.3 515.0,243.5 540,240 C565.0,236.5 583.3,226.7 600,215 C616.7,203.3 623.3,185.8 640,170 C656.7,154.2 673.3,128.3 700,120 C726.7,111.7 750.0,106.7 800,120 C850.0,133.3 927.7,171.7 1000,200 C1072.3,228.3 1195.0,240.0 1234,290 C1273.0,340.0 1251.7,462.5 1234,500 C1216.3,537.5 1171.0,508.5 1128,515 C1085.0,521.5 1041.7,525.8 976,539 C910.3,552.2 808.7,574.7 734,594 C659.3,613.3 570.3,639.8 528,655 C485.7,670.2 498.0,679.2 480,685 C462.0,690.8 445.0,694.2 420,690 C395.0,685.8 361.7,673.3 330,660 C298.3,646.7 258.3,630.0 230,610 C201.7,590.0 179.2,563.3 160,540 C140.8,516.7 124.2,493.3 115,470 C105.8,446.7 102.5,421.7 105,400 Z" style="fill:url(#g_s4)"/><path d="M105,400 C108.7,392.5 117.5,358.3 130,340 C142.5,321.7 156.7,305.8 180,290 C203.3,274.2 246.7,253.7 270,245 C293.3,236.3 290.0,239.5 320,238 C350.0,236.5 413.3,235.7 450,236 C486.7,236.3 515.0,243.5 540,240 C565.0,236.5 583.3,226.7 600,215 C616.7,203.3 623.3,180.8 640,170 C656.7,159.2 680.0,136.7 700,150 C720.0,163.3 743.3,226.7 760,250 C776.7,273.3 826.7,280.8 800,290 C773.3,299.2 666.7,298.3 600,305 C533.3,311.7 458.3,322.2 400,330 C341.7,337.8 298.7,342.8 250,352 C201.3,361.2 132.2,377.0 108,385 C83.8,393.0 101.3,407.5 105,400 Z" class="cs"/><path d="M106,382 C128.5,367.0 201.0,358.8 250,350 C299.0,341.2 341.7,336.5 400,329 C458.3,321.5 533.3,311.8 600,305 C666.7,298.2 733.3,288.8 800,288 C866.7,287.2 956.7,281.3 1000,300 C1043.3,318.7 1060.0,375.0 1060,400 C1060.0,425.0 1026.7,438.3 1000,450 C973.3,461.7 941.7,463.3 900,470 C858.3,476.7 800.0,480.0 750,490 C700.0,500.0 641.7,519.2 600,530 C558.3,540.8 533.3,553.3 500,555 C466.7,556.7 440.7,550.2 400,540 C359.3,529.8 303.5,510.7 256,494 C208.5,477.3 140.0,458.7 115,440 C90.0,421.3 83.5,397.0 106,382 Z" class="cd"/><path d="M1010,505 C1060,450 1120,400 1234,310" style="fill:none;stroke:#f4f4f4;stroke-width:8"/><path d="M270,440 L560,408 L850,372" style="fill:none;stroke:var(--seam);stroke-width:5"/></g><g transform="translate(60,80) scale(0.16207)"><path d="M560,-58 C588.3,-59.7 651.7,-53.0 700,-50 C748.3,-47.0 810.0,-45.0 850,-40 C890.0,-35.0 915.0,-40.0 940,-20 C965.0,0.0 986.3,46.7 1000,80 C1013.7,113.3 1018.7,146.7 1022,180 C1025.3,213.3 1025.3,246.7 1020,280 C1014.7,313.3 1001.7,348.3 990,380 C978.3,411.7 961.7,440.0 950,470 C938.3,500.0 929.2,530.0 920,560 C910.8,590.0 901.7,618.3 895,650 C888.3,681.7 882.5,720.0 880,750 C877.5,780.0 893.3,811.7 880,830 C866.7,848.3 826.7,850.0 800,860 C773.3,870.0 745.0,880.0 720,890 C695.0,900.0 676.7,921.7 650,920 C623.3,918.3 588.3,891.7 560,880 C531.7,868.3 511.7,863.3 480,850 C448.3,836.7 400.0,818.3 370,800 C340.0,781.7 317.5,760.5 300,740 C282.5,719.5 276.5,703.2 265,677 C253.5,650.8 238.2,614.2 231,583 C223.8,551.8 219.2,518.2 222,490 C224.8,461.8 231.0,452.2 248,414 C265.0,375.8 297.2,312.0 324,261 C350.8,210.0 383.5,149.0 409,108 C434.5,67.0 456.8,39.7 477,15 C497.2,-9.7 516.2,-27.8 530,-40 C543.8,-52.2 531.7,-56.3 560,-58 Z" class="ro"/><path d="M530,-40 C543.8,-52.2 559.0,-60.0 560,-58 C561.0,-56.0 544.2,-48.7 536,-28 C527.8,-7.3 519.5,25.0 511,66 C502.5,107.0 499.2,168.5 485,218 C470.8,267.5 444.3,317.7 426,363 C407.7,408.3 387.0,447.7 375,490 C363.0,532.3 356.8,578.7 354,617 C351.2,655.3 355.3,689.5 358,720 C360.7,750.5 379.7,796.7 370,800 C360.3,803.3 317.5,760.5 300,740 C282.5,719.5 276.5,703.2 265,677 C253.5,650.8 238.2,614.2 231,583 C223.8,551.8 219.2,518.2 222,490 C224.8,461.8 231.0,452.2 248,414 C265.0,375.8 297.2,312.0 324,261 C350.8,210.0 383.5,149.0 409,108 C434.5,67.0 456.8,39.7 477,15 C497.2,-9.7 516.2,-27.8 530,-40 Z" style="fill:url(#lb_s4)"/><path d="M560,-58 C606.5,-60.8 772.8,-77.0 815,-45 C857.2,-13.0 816.7,78.3 813,134 C809.3,189.7 803.3,242.7 793,289 C782.7,335.3 764.8,370.8 751,412 C737.2,453.2 723.7,491.3 710,536 C696.3,580.7 679.3,635.3 669,680 C658.7,724.7 651.2,764.0 648,804 C644.8,844.0 664.7,907.3 650,920 C635.3,932.7 588.3,891.7 560,880 C531.7,868.3 511.7,863.3 480,850 C448.3,836.7 390.3,821.7 370,800 C349.7,778.3 360.7,750.5 358,720 C355.3,689.5 351.2,655.3 354,617 C356.8,578.7 363.0,532.3 375,490 C387.0,447.7 407.7,408.3 426,363 C444.3,317.7 470.8,267.5 485,218 C499.2,168.5 502.5,107.0 511,66 C519.5,25.0 527.8,-7.3 536,-28 C544.2,-48.7 513.5,-55.2 560,-58 Z" class="ce"/><path d="M670,-50 C699.2,-90.8 791.2,-75.7 815,-45 C838.8,-14.3 816.7,78.3 813,134 C809.3,189.7 803.3,242.7 793,289 C782.7,335.3 764.8,370.8 751,412 C737.2,453.2 723.7,491.3 710,536 C696.3,580.7 679.3,635.3 669,680 C658.7,724.7 651.2,764.0 648,804 C644.8,844.0 664.7,907.3 650,920 C635.3,932.7 588.3,891.7 560,880 C531.7,868.3 491.7,880.0 480,850 C468.3,820.0 481.7,748.3 490,700 C498.3,651.7 513.3,610.0 530,560 C546.7,510.0 571.7,460.0 590,400 C608.3,340.0 626.7,275.0 640,200 C653.3,125.0 640.8,-9.2 670,-50 Z" class="ce2"/><path d="M815,-45 C821.8,-62.2 838.8,-0.5 854,31 C869.2,62.5 900.8,104.5 906,144 C911.2,183.5 898.8,223.3 885,268 C871.2,312.7 843.5,364.0 823,412 C802.5,460.0 780.8,508.0 762,556 C743.2,604.0 722.0,658.7 710,700 C698.0,741.3 695.2,769.5 690,804 C684.8,838.5 685.7,887.7 679,907 C672.3,926.3 656.0,920.0 650,920 C644.0,920.0 643.3,926.3 643,907 C642.7,887.7 643.7,841.8 648,804 C652.3,766.2 658.7,724.7 669,680 C679.3,635.3 696.3,580.7 710,536 C723.7,491.3 737.2,453.2 751,412 C764.8,370.8 782.7,335.3 793,289 C803.3,242.7 809.3,189.7 813,134 C816.7,78.3 808.2,-27.8 815,-45 Z" class="rf"/><path d="M280,705 C277.5,700.3 273.2,697.3 265,677 C256.8,656.7 238.2,614.2 231,583 C223.8,551.8 219.2,518.2 222,490 C224.8,461.8 231.0,452.2 248,414 C265.0,375.8 297.2,312.0 324,261 C350.8,210.0 383.5,149.0 409,108 C434.5,67.0 456.8,39.7 477,15 C497.2,-9.7 516.2,-27.8 530,-40 C543.8,-52.2 531.7,-56.3 560,-58 C588.3,-59.7 651.7,-53.0 700,-50 C748.3,-47.0 810.0,-45.0 850,-40 C890.0,-35.0 915.0,-40.0 940,-20 C965.0,0.0 986.3,46.7 1000,80 C1013.7,113.3 1018.7,146.7 1022,180 C1025.3,213.3 1025.3,246.7 1020,280 C1014.7,313.3 1001.7,348.3 990,380 C978.3,411.7 961.7,440.0 950,470 C938.3,500.0 929.2,530.0 920,560 C910.8,590.0 901.7,618.3 895,650 C888.3,681.7 882.5,720.0 880,750 C877.5,780.0 880.0,816.7 880,830" style="fill:none;stroke:#555;stroke-width:11"/></g><g transform="translate(0,165) scale(0.16207)"><path d="M528,655 C561.3,636.8 659.3,613.3 734,594 C808.7,574.7 910.3,552.2 976,539 C1041.7,525.8 1085.0,524.0 1128,515 C1171.0,506.0 1216.3,477.5 1234,485 C1251.7,492.5 1256.8,525.7 1234,560 C1211.2,594.3 1197.7,648.0 1097,691 C996.3,734.0 717.8,803.8 630,818 C542.2,832.2 586.0,795.2 570,776 C554.0,756.8 541.0,723.2 534,703 C527.0,682.8 494.7,673.2 528,655 Z" class="sh"/><path d="M529,650 L566,640 L617,780 L626,826 L598,803 L555,727 Z" style="fill:#acacac"/><path d="M600,620 L700,600 L690,640 L610,650 Z" style="fill:#999"/><path d="M850,640 L880,590 L890,600 L860,650 Z" style="fill:none;stroke:#888;stroke-width:5"/></g><g transform="translate(100,0) scale(0.16207)"><path d="M360,75 C383.7,68.0 443.3,73.2 470,76 C496.7,78.8 504.7,83.3 520,92 C535.3,100.7 548.3,110.0 562,128 C575.7,146.0 590.7,171.3 602,200 C613.3,228.7 622.8,266.7 630,300 C637.2,333.3 643.3,376.7 645,400 C646.7,423.3 647.5,426.7 640,440 C632.5,453.3 613.7,471.0 600,480 C586.3,489.0 578.0,493.7 558,494 C538.0,494.3 506.3,487.3 480,482 C453.7,476.7 421.7,470.3 400,462 C378.3,453.7 362.0,445.7 350,432 C338.0,418.3 333.3,402.0 328,380 C322.7,358.0 319.7,330.0 318,300 C316.3,270.0 316.3,230.3 318,200 C319.7,169.7 321.0,138.8 328,118 C335.0,97.2 336.3,82.0 360,75 Z" class="hr"/><path d="M515,98 C525.3,101.3 545.8,111.0 560,128 C574.2,145.0 588.7,171.3 600,200 C611.3,228.7 620.8,266.7 628,300 C635.2,333.3 641.3,376.7 643,400 C644.7,423.3 645.2,426.7 638,440 C630.8,453.3 613.0,471.3 600,480 C587.0,488.7 572.5,492.0 560,492 C547.5,492.0 535.8,495.3 525,480 C514.2,464.7 502.8,430.0 495,400 C487.2,370.0 481.3,330.0 478,300 C474.7,270.0 475.0,245.0 475,220 C475.0,195.0 474.2,168.7 478,150 C481.8,131.3 491.8,116.7 498,108 C504.2,99.3 504.7,94.7 515,98 Z" style="fill:url(#hf_s4)"/></g></g>
<g transform="translate(525,330) scale(0.07613)"><path d="M45,340 L195,205 L230,235 L560,195 L700,265 L705,330 L470,380 L455,430 L60,395 Z" class="aw" style=""/><path d="M75,345 L400,345 L420,330 L690,292 L695,322 L450,362 L440,405 L80,378 Z" class="ad" style=""/><path d="M730,175 L980,140 L1000,95 L1380,110 L1385,180 L1240,300 L1210,270 L880,310 L750,250 Z" class="aw" style=""/><path d="M760,195 L880,235 L1200,205 L1230,210 L1365,135 L1370,170 L1245,280 L1215,250 L880,290 L765,230 Z" class="ad" style=""/></g>
<path d="M636,392.3 L715.4,378.7 L715.4,392 L636,393.3 Z" class="wl"/>
<g transform="translate(700,285) scale(0.16207)"><rect x="95" y="125" width="1035" height="755" rx="130" class="box"/></g>
<g transform="translate(700,285) scale(0.16207)"><g clip-path="url(#cb1)"><path d="M60,440 L117,398 C220,300 290,190 316,143 L330,100 L60,100 Z" style="fill:#dadada" filter="url(#bl2)"/><path d="M117,398 C220,300 290,190 316,143" style="fill:none;stroke:#a4a4a4;stroke-width:30" filter="url(#bl3)"/></g><path d="M250,580 C255,530 300,505 360,495 L740,430 C800,415 830,380 850,300 C870,230 900,200 990,185 L1060,195" class="pl"/><path d="M290,680 C330,740 380,770 450,765 L1000,640" class="pl"/><path d="M850,470 C848.3,423.3 856.7,356.7 865,320 C873.3,283.3 884.2,266.3 900,250 C915.8,233.7 936.7,226.2 960,222 C983.3,217.8 1020.0,219.5 1040,225 C1060.0,230.5 1072.5,242.5 1080,255 C1087.5,267.5 1088.3,272.5 1085,300 C1081.7,327.5 1068.3,380.0 1060,420 C1051.7,460.0 1043.3,505.8 1035,540 C1026.7,574.2 1022.5,607.5 1010,625 C997.5,642.5 978.3,643.3 960,645 C941.7,646.7 914.2,642.5 900,635 C885.8,627.5 883.3,627.5 875,600 C866.7,572.5 851.7,516.7 850,470 Z" class="" style="fill:#d2d2d2"/><path d="M850,470 C848.3,423.3 856.7,356.7 865,320 C873.3,283.3 884.2,266.3 900,250 C915.8,233.7 943.3,224.5 960,222 C976.7,219.5 1001.7,227.0 1000,235 C998.3,243.0 963.3,245.8 950,270 C936.7,294.2 928.3,341.7 920,380 C911.7,418.3 905.8,463.3 900,500 C894.2,536.7 889.2,583.3 885,600 C880.8,616.7 880.8,621.7 875,600 C869.2,578.3 851.7,516.7 850,470 Z" class="" style="fill:#8e8e8e"/><path d="M1015,255 C1025.0,244.2 1054.2,240.8 1060,265 C1065.8,289.2 1056.7,350.8 1050,400 C1043.3,449.2 1030.0,525.0 1020,560 C1010.0,595.0 1000.0,603.3 990,610 C980.0,616.7 960.8,621.7 960,600 C959.2,578.3 978.3,525.0 985,480 C991.7,435.0 995.0,367.5 1000,330 C1005.0,292.5 1005.0,265.8 1015,255 Z" class="" style="fill:#e8e8e8"/></g>
<g transform="translate(715,360) scale(0.10381)"><path d="M365,175 C370.8,160.0 380.8,140.8 400,130 C419.2,119.2 390.0,120.0 480,110 C570.0,100.0 850.0,75.0 940,70 C1030.0,65.0 997.5,70.0 1020,80 C1042.5,90.0 1064.2,110.0 1075,130 C1085.8,150.0 1085.8,173.3 1085,200 C1084.2,226.7 1075.8,270.0 1070,290 C1064.2,310.0 1128.3,298.3 1050,320 C971.7,341.7 688.3,405.0 600,420 C511.7,435.0 548.3,420.0 520,410 C491.7,400.0 452.5,380.0 430,360 C407.5,340.0 395.8,313.3 385,290 C374.2,266.7 368.3,239.2 365,220 C361.7,200.8 359.2,190.0 365,175 Z" class="" style="fill:#3c3c3c"/><path d="M440,260 C443.3,239.2 453.3,225.0 470,215 C486.7,205.0 441.7,207.5 540,200 C638.3,192.5 971.7,156.7 1060,170 C1148.3,183.3 1072.5,255.8 1070,280 C1067.5,304.2 1123.3,292.5 1045,315 C966.7,337.5 687.5,400.0 600,415 C512.5,430.0 545.0,417.5 520,405 C495.0,392.5 463.3,364.2 450,340 C436.7,315.8 436.7,280.8 440,260 Z" class="" style="fill:#4b4b4b"/><path d="M75,235 L140,190 L150,200 L370,215 L390,240 L375,265 L300,270 L290,295 L80,275 Z" class="" style="fill:#2e2e2e;stroke:#fff;stroke-width:8;paint-order:stroke"/><path d="M1060,110 L1135,105 L1140,80 L1340,100 L1345,140 L1290,185 L1270,170 L1090,180 L1065,150 Z" class="" style="fill:#2e2e2e;stroke:#fff;stroke-width:8;paint-order:stroke"/></g>
<g transform="translate(500,285) scale(0.16207)"><rect x="765" y="665" width="75" height="35" rx="17" style="fill:#333"/></g>
<g transform="translate(610,670) scale(0.10381)"><path d="M105,375 L245,185 L270,205 L275,235 L340,210 L450,185 L540,180 L555,195 L555,335 L540,350 L440,355 L340,380 L315,400 L310,470 L290,470 Z" class="" style="fill:#555;stroke:#fff;stroke-width:36;stroke-linejoin:round;paint-order:stroke"/><path d="M120,372 L245,200 L268,215 L145,385 Z" class="" style="fill:#2c2c2c"/><path d="M1125,190 L1270,215 L1285,160 L1310,165 L1400,370 L1240,410 L1220,395 L1230,345 L1125,320 Z" class="" style="fill:#4a4a4a"/><path d="M1285,160 L1310,165 L1300,230 L1270,215 Z" class="" style="fill:#222"/></g>
<path d="M643.4,846.5 L715.4,826.8 L715.4,841.4 L643.4,847.7 Z" class="wl"/>
<g transform="translate(700,745) scale(0.16207)"><rect x="95" y="130" width="1035" height="755" rx="130" class="box"/></g>
<g transform="translate(700,745) scale(0.16207)"><g clip-path="url(#cb2)"><path d="M80,280 C200,140 700,120 1100,120" style="fill:none;stroke:#c4c4c4;stroke-width:70" filter="url(#bl)"/></g><path d="M100,600 L350,560 L600,500 C630,490 640,470 640,460" class="pl"/><path d="M720,300 C740,265 780,255 880,245 C905,245 920,260 920,290" class="pl"/><path d="M110,720 C160,790 200,830 300,835 L800,720" class="pl"/><path d="M180,650 C183.3,636.7 180.0,629.2 200,620 C220.0,610.8 240.0,602.5 300,595 C360.0,587.5 508.3,576.7 560,575 C611.7,573.3 597.5,575.8 610,585 C622.5,594.2 631.7,610.8 635,630 C638.3,649.2 635.8,678.3 630,700 C624.2,721.7 650.0,743.3 600,760 C550.0,776.7 383.3,795.0 330,800 C276.7,805.0 301.7,800.0 280,790 C258.3,780.0 216.7,755.0 200,740 C183.3,725.0 183.3,715.0 180,700 C176.7,685.0 176.7,663.3 180,650 Z" class="" style="fill:#8a8a8a"/><path d="M240,690 C242.5,676.7 245.0,666.7 260,660 C275.0,653.3 273.3,655.8 330,650 C386.7,644.2 550.0,626.7 600,625 C650.0,623.3 625.8,626.7 630,640 C634.2,653.3 630.0,685.0 625,705 C620.0,725.0 649.2,744.2 600,760 C550.8,775.8 383.3,795.0 330,800 C276.7,805.0 294.2,800.0 280,790 C265.8,780.0 251.7,756.7 245,740 C238.3,723.3 237.5,703.3 240,690 Z" class="" style="fill:#d0d0d0"/><path d="M700,520 C701.7,491.7 710.0,473.3 720,450 C730.0,426.7 748.3,401.7 760,380 C771.7,358.3 776.7,335.0 790,320 C803.3,305.0 823.3,294.2 840,290 C856.7,285.8 875.0,290.0 890,295 C905.0,300.0 922.5,305.8 930,320 C937.5,334.2 939.2,358.3 935,380 C930.8,401.7 912.5,421.7 905,450 C897.5,478.3 894.2,515.0 890,550 C885.8,585.0 886.7,635.0 880,660 C873.3,685.0 865.0,692.5 850,700 C835.0,707.5 808.3,708.3 790,705 C771.7,701.7 753.3,694.2 740,680 C726.7,665.8 716.7,646.7 710,620 C703.3,593.3 698.3,548.3 700,520 Z" class="" style="fill:#474747"/><path d="M595,410 L660,330 L670,355 L790,340 L800,400 L700,420 L690,460 Z" class="" style="fill:#3e3e3e;stroke:#fff;stroke-width:14;stroke-linejoin:round;paint-order:stroke"/><path d="M940,340 L995,340 L1000,305 L1060,410 L980,440 L965,410 L945,400 Z" class="" style="fill:#3e3e3e;stroke:#fff;stroke-width:14;stroke-linejoin:round;paint-order:stroke"/></g>
<g transform="translate(500,745) scale(0.16207)"><rect x="760" y="650" width="70" height="45" rx="20" style="fill:#ddd;stroke:#333;stroke-width:8"/><rect x="840" y="590" width="45" height="75" rx="22" transform="rotate(25 862 628)" style="fill:#d8d8d8;stroke:#222;stroke-width:9"/><path d="M848,650 L876,602" style="stroke:#333;stroke-width:8"/></g>
<g transform="translate(945,285) scale(0.16207)"><path d="M170,315 L275,190 L410,300 L355,305 L355,460 L345,470 L215,470 L205,455 L205,330 Z" class="" style="fill:#555;stroke:#fff;stroke-width:16;stroke-linejoin:round;paint-order:stroke"/><path d="M180,315 L275,198 L290,212 L205,320 Z" class="" style="fill:#2a2a2a"/><path d="M215,325 L240,325 L240,462 L215,462 Z" class="" style="fill:#2a2a2a"/><path d="M225,640 L355,640 L355,770 L410,775 L300,885 L175,790 L230,780 Z" class="" style="fill:#555"/><path d="M175,790 L300,885 L305,870 L200,790 Z" class="" style="fill:#2a2a2a"/><rect x="765" y="680" width="65" height="40" rx="18" style="fill:#333"/></g>
<path d="M1081,396 L1161.2,383 L1161.2,396.8 L1081,397.2 Z" class="wl"/>
<g transform="translate(1145,285) scale(0.16207)"><rect x="100" y="145" width="1035" height="755" rx="130" class="box"/></g>
<g transform="translate(1145,285) scale(0.16207)"><g clip-path="url(#cb3)"><path d="M60,360 L108,334 C150,300 210,230 261,160 L275,120 L60,120 Z" style="fill:#dadada" filter="url(#bl2)"/><path d="M108,334 C150,300 210,230 261,160" style="fill:none;stroke:#a4a4a4;stroke-width:30" filter="url(#bl3)"/></g><path d="M210,500 C220,470 250,460 300,455 L500,430 C650,410 740,390 770,340 L830,200 C840,170 860,155 900,150" class="pl"/><path d="M220,560 C250,640 290,700 340,720 L900,610" class="pl"/><path d="M800,430 C805.0,395.0 818.3,326.7 830,290 C841.7,253.3 850.0,228.3 870,210 C890.0,191.7 925.0,182.5 950,180 C975.0,177.5 1005.0,185.0 1020,195 C1035.0,205.0 1040.0,214.2 1040,240 C1040.0,265.8 1026.7,310.0 1020,350 C1013.3,390.0 1005.8,446.7 1000,480 C994.2,513.3 995.0,531.7 985,550 C975.0,568.3 957.5,582.5 940,590 C922.5,597.5 898.3,600.0 880,595 C861.7,590.0 843.3,575.8 830,560 C816.7,544.2 805.0,521.7 800,500 C795.0,478.3 795.0,465.0 800,430 Z" class="" style="fill:#d0d0d0"/><path d="M800,430 C805.0,395.0 818.3,326.7 830,290 C841.7,253.3 850.0,228.3 870,210 C890.0,191.7 930.8,182.5 950,180 C969.2,177.5 990.0,186.7 985,195 C980.0,203.3 936.7,207.5 920,230 C903.3,252.5 894.7,295.0 885,330 C875.3,365.0 867.8,405.0 862,440 C856.2,475.0 854.5,519.2 850,540 C845.5,560.8 843.3,571.7 835,565 C826.7,558.3 805.8,522.5 800,500 C794.2,477.5 795.0,465.0 800,430 Z" class="" style="fill:#8d8d8d"/><path d="M990,215 C1000.0,199.2 1026.7,210.8 1030,235 C1033.3,259.2 1017.5,315.8 1010,360 C1002.5,404.2 993.3,465.0 985,500 C976.7,535.0 970.0,556.7 960,570 C950.0,583.3 926.7,596.7 925,580 C923.3,563.3 942.5,511.7 950,470 C957.5,428.3 963.3,372.5 970,330 C976.7,287.5 980.0,230.8 990,215 Z" class="" style="fill:#ececec"/><path d="M280,545 C285.0,533.3 276.7,520.8 310,510 C343.3,499.2 418.3,487.5 480,480 C541.7,472.5 638.3,463.3 680,465 C721.7,466.7 720.0,474.2 730,490 C740.0,505.8 741.7,535.0 740,560 C738.3,585.0 771.7,617.5 720,640 C668.3,662.5 490.0,688.3 430,695 C370.0,701.7 381.7,690.8 360,680 C338.3,669.2 313.3,646.7 300,630 C286.7,613.3 283.3,594.2 280,580 C276.7,565.8 275.0,556.7 280,545 Z" class="" style="fill:#3e3e3e"/><path d="M340,590 C342.5,578.3 346.7,566.7 360,560 C373.3,553.3 358.3,556.7 420,550 C481.7,543.3 677.5,515.0 730,520 C782.5,525.0 737.5,560.0 735,580 C732.5,600.0 765.8,621.3 715,640 C664.2,658.7 487.5,686.2 430,692 C372.5,697.8 384.2,685.3 370,675 C355.8,664.7 350.0,644.2 345,630 C340.0,615.8 337.5,601.7 340,590 Z" class="" style="fill:#4d4d4d"/><path d="M540,245 L645,335 L600,345 L600,465 L500,465 L500,355 L450,350 Z" class="" style="fill:#4a4a4a;stroke:#fff;stroke-width:12;stroke-linejoin:round;paint-order:stroke"/><path d="M500,695 L600,690 L600,750 L645,750 L555,850 L450,775 L500,770 Z" class="" style="fill:#4a4a4a;stroke:#fff;stroke-width:12;stroke-linejoin:round;paint-order:stroke"/></g>
<defs><radialGradient id="lum"><stop offset="0" stop-color="#6a6a6a" stop-opacity="0.75"/><stop offset="1" stop-color="#6a6a6a" stop-opacity="0"/></radialGradient><clipPath id="c4"><path transform="translate(1005,640) scale(0.16207)" d="M560,-58 C606.5,-60.8 772.8,-77.0 815,-45 C857.2,-13.0 816.7,78.3 813,134 C809.3,189.7 803.3,242.7 793,289 C782.7,335.3 764.8,370.8 751,412 C737.2,453.2 723.7,491.3 710,536 C696.3,580.7 679.3,635.3 669,680 C658.7,724.7 651.2,764.0 648,804 C644.8,844.0 664.7,907.3 650,920 C635.3,932.7 588.3,891.7 560,880 C531.7,868.3 511.7,863.3 480,850 C448.3,836.7 390.3,821.7 370,800 C349.7,778.3 360.7,750.5 358,720 C355.3,689.5 351.2,655.3 354,617 C356.8,578.7 363.0,532.3 375,490 C387.0,447.7 407.7,408.3 426,363 C444.3,317.7 470.8,267.5 485,218 C499.2,168.5 502.5,107.0 511,66 C519.5,25.0 527.8,-7.3 536,-28 C544.2,-48.7 513.5,-55.2 560,-58 Z"/></clipPath></defs>
<g clip-path="url(#c4)"><ellipse cx="1103" cy="715" rx="24" ry="48" fill="url(#lum)"/></g>
<g transform="translate(945,640) scale(0.16207)"><path d="M730,470 L830,445 L840,415 L935,465 L850,550 L835,530 L735,545 Z" class="" style="fill:#4a4a4a;stroke:#fff;stroke-width:16;stroke-linejoin:round;paint-order:stroke"/><path d="M655,685 L745,615 L760,630 L855,610 L865,690 L760,700 L760,740 Z" class="" style="fill:#4a4a4a;stroke:#fff;stroke-width:16;stroke-linejoin:round;paint-order:stroke"/></g>
<path d="M1060.8,818.8 L1203.3,759.8 L1203.3,772.8 L1060.8,820.5 Z" class="wl"/>
<g transform="translate(1020,780) scale(0.06920)"><rect x="420" y="570" width="150" height="70" rx="10" style="fill:#2a2a2a"/><rect x="700" y="705" width="160" height="100" rx="45" transform="rotate(-12 780 755)" style="fill:#9a9a9a;stroke:#555;stroke-width:14"/><rect x="890" y="565" width="90" height="180" rx="45" transform="rotate(15 935 655)" style="fill:#e0e0e0;stroke:#666;stroke-width:14"/></g>
<rect x="1203.3" y="656.2" width="113.2" height="193.6" rx="24" style="fill:#dedede;stroke:#444;stroke-width:1.3"/>
<rect x="1218.7" y="674.8" width="80.3" height="159.6" style="fill:#484848"/>
<rect x="1218.7" y="752.8" width="80.3" height="2.6" style="fill:#2a2a2a"/>
<g transform="translate(1058,915) scale(0.06920)"><path d="M140,88 L115,105 L95,150 L88,210 L100,290 L115,360 L122,430 L128,500 L133,538 L155,553 L400,553 L420,540 L425,470 L418,440 L398,427 L245,430 L210,440 L235,400 L250,360 L240,320 L205,270 L170,225 L160,190 L170,140 L172,110 L158,92 Z" style="fill:none;stroke:#222;stroke-width:24;stroke-linejoin:round"/><path d="M85,375 L210,368 M170,328 L212,366 L168,408" style="fill:none;stroke:#222;stroke-width:24;stroke-linejoin:round"/><path d="M1035,93 L1005,110 L985,160 L980,220 L993,300 L1010,390 L1020,470 L1027,530 L1045,555 L1300,555 L1320,538 L1322,470 L1312,442 L1290,432 L1110,437 L1095,440 L1085,385 L1068,310 L1048,240 L1042,195 L1055,140 L1062,112 L1050,96 Z" style="fill:none;stroke:#222;stroke-width:24;stroke-linejoin:round"/><path d="M1240,305 L1097,322 M1145,278 L1097,322 L1150,362" style="fill:none;stroke:#222;stroke-width:24;stroke-linejoin:round"/></g><g transform="translate(1244.40,689.07) scale(0.07647)"><path d="M140,88 L115,105 L95,150 L88,210 L100,290 L115,360 L122,430 L128,500 L133,538 L155,553 L400,553 L420,540 L425,470 L418,440 L398,427 L245,430 L210,440 L235,400 L250,360 L240,320 L205,270 L170,225 L160,190 L170,140 L172,110 L158,92 Z" style="fill:none;stroke:#fff;stroke-width:26;stroke-linejoin:round"/><path d="M85,375 L210,368 M170,328 L212,366 L168,408" style="fill:none;stroke:#fff;stroke-width:26;stroke-linejoin:round"/></g><g transform="translate(1175.96,771.39) scale(0.07647)"><path d="M1035,93 L1005,110 L985,160 L980,220 L993,300 L1010,390 L1020,470 L1027,530 L1045,555 L1300,555 L1320,538 L1322,470 L1312,442 L1290,432 L1110,437 L1095,440 L1085,385 L1068,310 L1048,240 L1042,195 L1055,140 L1062,112 L1050,96 Z" style="fill:none;stroke:#fff;stroke-width:26;stroke-linejoin:round"/><path d="M1240,305 L1097,322 M1145,278 L1097,322 L1150,362" style="fill:none;stroke:#fff;stroke-width:26;stroke-linejoin:round"/></g></svg>
</body></html>
